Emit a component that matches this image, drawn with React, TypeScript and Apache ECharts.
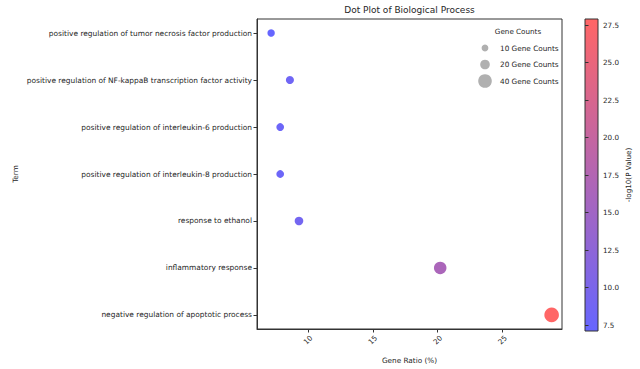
import React, { useEffect, useRef } from "react";
import * as echarts from "echarts";

// Categories listed bottom-to-top (matplotlib categorical order)
const categories = [
  "negative regulation of apoptotic process",
  "inflammatory response",
  "response to ethanol",
  "positive regulation of interleukin-8 production",
  "positive regulation of interleukin-6 production",
  "positive regulation of NF-kappaB transcription factor activity",
  "positive regulation of tumor necrosis factor production",
];
const geneRatio = [28.8, 20.2, 9.3, 7.85, 7.85, 8.6, 7.15];
const geneCounts = [46, 34, 16, 13, 13, 14, 12];
const negLog10P = [27.9, 16.5, 9.0, 8.0, 8.0, 8.5, 7.1];

const xTicks = [10, 15, 20, 25];
const cbarTicks = [7.5, 10, 12.5, 15, 17.5, 20, 22.5, 25, 27.5];
const legendCounts = [10, 20, 40];

const X_MIN = 6.06;
const X_MAX = 29.6;
const P_MIN = 7.1;
const P_MAX = 27.9;

const FONT = "DejaVu Sans";
const TXT = "#262626";

export default function App() {
  const ref = useRef<HTMLDivElement>(null);
  useEffect(() => {
    document.body.style.margin = "0";
    const chart = echarts.init(ref.current!, null, { renderer: "svg" });
    const sizeOf = (c: number) => 2.15 * Math.sqrt(c);
    const data = categories.map((name, i) => [geneRatio[i], i, geneCounts[i], negLog10P[i], name]);
    const yIdx = categories.map((_, i) => i);

    const gradient = new echarts.graphic.LinearGradient(0, 0, 0, 1, [
      { offset: 0, color: "#ff6666" },
      { offset: 1, color: "#6666ff" },
    ]);

    const legendChildren: any[] = [
      {
        type: "text",
        style: { text: "Gene Counts", x: 518, y: 31, align: "center", verticalAlign: "middle", fontSize: 7.2, fontFamily: FONT, fill: TXT },
      },
    ];
    const legendY = [48, 64.5, 81];
    legendCounts.forEach((c, i) => {
      legendChildren.push({
        type: "circle",
        shape: { cx: 485, cy: legendY[i], r: sizeOf(c) / 2 },
        style: { fill: "rgba(150,150,150,0.75)" },
      });
      legendChildren.push({
        type: "text",
        style: { text: `${c} Gene Counts`, x: 500, y: legendY[i], align: "left", verticalAlign: "middle", fontSize: 7.3, fontFamily: FONT, fill: TXT },
      });
    });

    chart.setOption({
      animation: false,
      backgroundColor: "#ffffff",
      textStyle: { fontFamily: FONT },
      grid: [
        { left: 257, right: 78, top: 19, bottom: 38, show: true, borderColor: "#333", borderWidth: 1, backgroundColor: "transparent" },
        { left: 585, width: 13, top: 19, height: 312, show: true, borderColor: "#333", borderWidth: 1, backgroundColor: gradient },
      ],
      xAxis: [
        {
          type: "value",
          gridIndex: 0,
          min: X_MIN,
          max: X_MAX,
          name: "Gene Ratio (%)",
          nameLocation: "middle",
          nameGap: 28,
          nameTextStyle: { fontSize: 7.3, color: TXT, fontFamily: FONT },
          axisLine: { show: true, onZero: false, lineStyle: { color: "#333", width: 1 } },
          axisTick: { show: true, inside: false, length: 3.5, customValues: xTicks, lineStyle: { color: "#333" } },
          axisLabel: {
            customValues: xTicks,
            rotate: 45,
            align: "center",
            verticalAlign: "middle",
            margin: 11,
            fontSize: 7.2,
            color: TXT,
            fontFamily: FONT,
            formatter: (v: number) => String(v),
          },
          splitLine: { show: false },
        },
        { type: "value", gridIndex: 1, show: false, min: 0, max: 1 },
      ],
      yAxis: [
        {
          type: "value",
          gridIndex: 0,
          min: -0.3,
          max: 6.3,
          name: "Term",
          nameLocation: "middle",
          nameGap: 238,
          nameRotate: 90,
          nameTextStyle: { fontSize: 7.3, color: TXT, fontFamily: FONT },
          axisLine: { show: true, onZero: false, lineStyle: { color: "#333", width: 1 } },
          axisTick: { show: true, inside: false, length: 3.5, customValues: yIdx, lineStyle: { color: "#333" } },
          axisLabel: {
            customValues: yIdx,
            margin: 5,
            fontSize: 7.45,
            color: TXT,
            fontFamily: FONT,
            formatter: (v: number) => categories[Math.round(v)] ?? "",
          },
          splitLine: { show: false },
        },
        {
          type: "value",
          gridIndex: 1,
          position: "right",
          min: P_MIN,
          max: P_MAX,
          name: "-log10(P Value)",
          nameLocation: "middle",
          nameGap: 27,
          nameRotate: 90,
          nameTextStyle: { fontSize: 7.2, color: TXT, fontFamily: FONT },
          axisLine: { show: false },
          axisTick: { show: true, inside: false, length: 3.5, customValues: cbarTicks, lineStyle: { color: "#333" } },
          axisLabel: {
            customValues: cbarTicks,
            margin: 5,
            fontSize: 7.2,
            color: TXT,
            fontFamily: FONT,
            formatter: (v: number) => v.toFixed(1),
          },
          splitLine: { show: false },
        },
      ],
      visualMap: {
        type: "continuous",
        show: false,
        seriesIndex: 0,
        dimension: 3,
        min: P_MIN,
        max: P_MAX,
        inRange: { color: ["#6666ff", "#ff6666"] },
      },
      series: [
        {
          type: "scatter",
          xAxisIndex: 0,
          yAxisIndex: 0,
          data,
          symbolSize: (v: any[]) => sizeOf(v[2]),
          itemStyle: { opacity: 1 },
        },
      ],
      graphic: [
        {
          type: "text",
          style: { text: "Dot Plot of Biological Process", x: 409.5, y: 10, align: "center", verticalAlign: "middle", fontSize: 9, fontFamily: FONT, fill: TXT },
        },
        { type: "group", children: legendChildren },
      ],
    });
    return () => chart.dispose();
  }, []);
  return <div ref={ref} style={{ width: 640, height: 369 }} />;
}
